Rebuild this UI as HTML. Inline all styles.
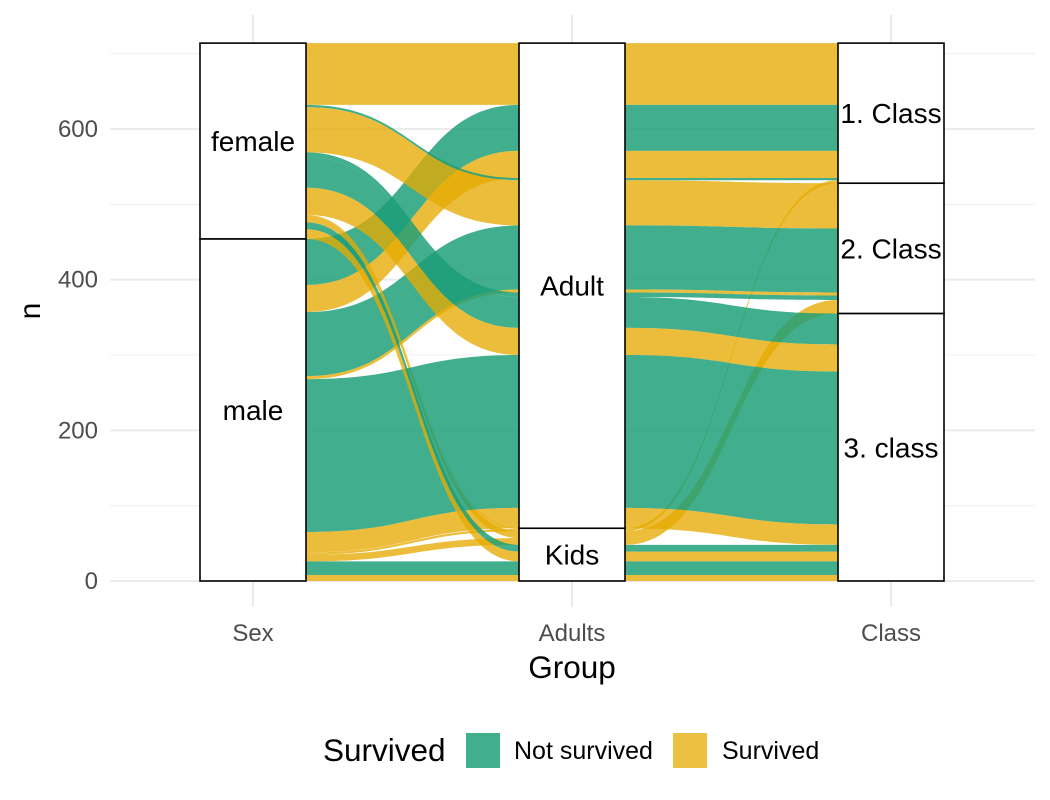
<!DOCTYPE html>
<html><head><meta charset="utf-8"><style>
body{margin:0;background:#fff;}
svg{display:block;font-family:"Liberation Sans",sans-serif;}
</style></head><body>
<svg id="chart" width="1050" height="800" viewBox="0 0 1050 800">
<g id="grid"></g>
<g id="flows"></g>
<g id="strata"></g>
<g id="axes"></g>
<text x="40" y="311" font-size="30" text-anchor="middle" transform="rotate(-90 40 311)" fill="#000">n</text>
<text x="572" y="678" font-size="31.5" text-anchor="middle" fill="#000">Group</text>
<g>
<text x="323" y="761" font-size="31.5" fill="#000">Survived</text>
<rect x="466" y="733" width="34" height="35" fill="#1b9e77" fill-opacity="0.83"/>
<text x="514" y="759" font-size="25" fill="#000">Not survived</text>
<rect x="673" y="733" width="34" height="35" fill="#e6ab02" fill-opacity="0.75"/>
<text x="722" y="759" font-size="25" fill="#000">Survived</text>
</g>
</svg>
<script>
// ---- data (alluvia in id order) ----
const sexVals   = ["female","male","male","female","female","male","female","male","male","female","female","male","female","female","male","male","female","female","male","male"];
const adultVals = ["Adult","Adult","Adult","Adult","Kids","Kids","Adult","Adult","Adult","Adult","Kids","Kids","Adult","Adult","Adult","Adult","Kids","Kids","Kids","Kids"];
const classVals = ["1. Class","1. Class","1. Class","1. Class","1. Class","1. Class","2. Class","2. Class","2. Class","2. Class","2. Class","2. Class","3. class","3. class","3. class","3. class","3. class","3. class","3. class","3. class"];
const survVals  = ["Survived","Not survived","Survived","Not survived","Survived","Survived","Survived","Not survived","Survived","Not survived","Survived","Survived","Not survived","Survived","Not survived","Survived","Not survived","Survived","Not survived","Survived"];
const counts    = [82,61,36,3,1,3,60,85,4,6,9,9,41,36,203,27,9,13,18,8];
const axisNames = ["Sex","Adults","Class"];
const sexLevels = ["female","male"];
const adultLevels = ["Adult","Kids"];
const classLevels = ["1. Class","2. Class","3. class"];
const yTicks = [0,200,400,600];
const yMinor = [100,300,500,700];

const NS="http://www.w3.org/2000/svg";
const Y0=581, PXU=452/600;
const y=v=>Y0-v*PXU;
const axisX=[253,572,891], HW=53;
const colors={"Not survived":"#1b9e77","Survived":"#e6ab02"};
const opac={"Not survived":0.83,"Survived":0.78};
function mk(tag,attrs,parent){const e=document.createElementNS(NS,tag);for(const k in attrs)e.setAttribute(k,attrs[k]);parent.appendChild(e);return e;}

const grid=document.getElementById('grid');
yMinor.forEach(v=>{const l=mk('line',{x1:110,x2:1035,y1:y(v),y2:y(v),stroke:'#f0f0f0','stroke-width':1},grid);

});
yTicks.forEach(v=>{const l=mk('line',{x1:110,x2:1035,y1:y(v),y2:y(v),stroke:'#ebebeb','stroke-width':2},grid);

});
axisX.forEach(x=>{const l=mk('line',{x1:x,x2:x,y1:15,y2:607,stroke:'#ebebeb','stroke-width':2},grid);

});

const axes=document.getElementById('axes');
yTicks.forEach(v=>{const t=mk('text',{x:98,y:y(v)+8,'font-size':24,'text-anchor':'end',fill:'#4d4d4d'},axes);t.textContent=v;

});
axisNames.forEach((n,i)=>{const t=mk('text',{x:axisX[i],y:641,'font-size':24,'text-anchor':'middle',fill:'#4d4d4d'},axes);t.textContent=n;

});

const N=counts.length;
const cols=[sexVals,adultVals,classVals];
const levs=[sexLevels,adultLevels,classLevels];
const keyOrder=[[0,1,2],[1,2],[2,1]];
const rank=(a,i)=>levs[a].indexOf(cols[a][i]);
const pos=[];
for(let a=0;a<3;a++){
  const idx=[...Array(N).keys()];
  idx.sort((p,q)=>{for(const k of keyOrder[a]){const d=rank(k,p)-rank(k,q);if(d)return d;}return p-q;});
  const total=counts.reduce((s,c)=>s+c,0);
  let top=total;pos[a]=[];
  idx.forEach(i=>{pos[a][i]=[top,top-counts[i]];top-=counts[i];});
}
const flows=document.getElementById('flows');
for(let i=0;i<N;i++){
  let d='';
  const T=[0,1,2].map(a=>y(pos[a][i][0])), B=[0,1,2].map(a=>y(pos[a][i][1]));
  d+=`M${axisX[0]-HW},${T[0]} L${axisX[0]+HW},${T[0]}`;
  for(let a=1;a<3;a++){const x0=axisX[a-1]+HW,x1=axisX[a]-HW,m=(x0+x1)/2;
    d+=` C${m},${T[a-1]} ${m},${T[a]} ${x1},${T[a]} L${axisX[a]+HW},${T[a]}`;}
  d+=` L${axisX[2]+HW},${B[2]} L${axisX[2]-HW},${B[2]}`;
  for(let a=2;a>0;a--){const x0=axisX[a-1]+HW,x1=axisX[a]-HW,m=(x0+x1)/2;
    d+=` C${m},${B[a]} ${m},${B[a-1]} ${x0},${B[a-1]} L${axisX[a-1]-HW},${B[a-1]}`;}
  d+='Z';
  const p=mk('path',{d:d,fill:colors[survVals[i]],'fill-opacity':opac[survVals[i]]},flows);
  
  
}
const strata=document.getElementById('strata');
for(let a=0;a<3;a++){
  const total=counts.reduce((s,c)=>s+c,0);let top=total;
  levs[a].forEach(l=>{let n=0;for(let i=0;i<N;i++)if(cols[a][i]===l)n+=counts[i];
    const r=mk('rect',{x:axisX[a]-HW,y:y(top),width:2*HW,height:n*PXU,fill:'#fff',stroke:'#000','stroke-width':1.6},strata);
    
    
    const t=mk('text',{x:axisX[a],y:y(top-n/2)+10,'font-size':28,'text-anchor':'middle',fill:'#000'},strata);t.textContent=l;
    
    
    top-=n;});
}
</script>
</body></html>
